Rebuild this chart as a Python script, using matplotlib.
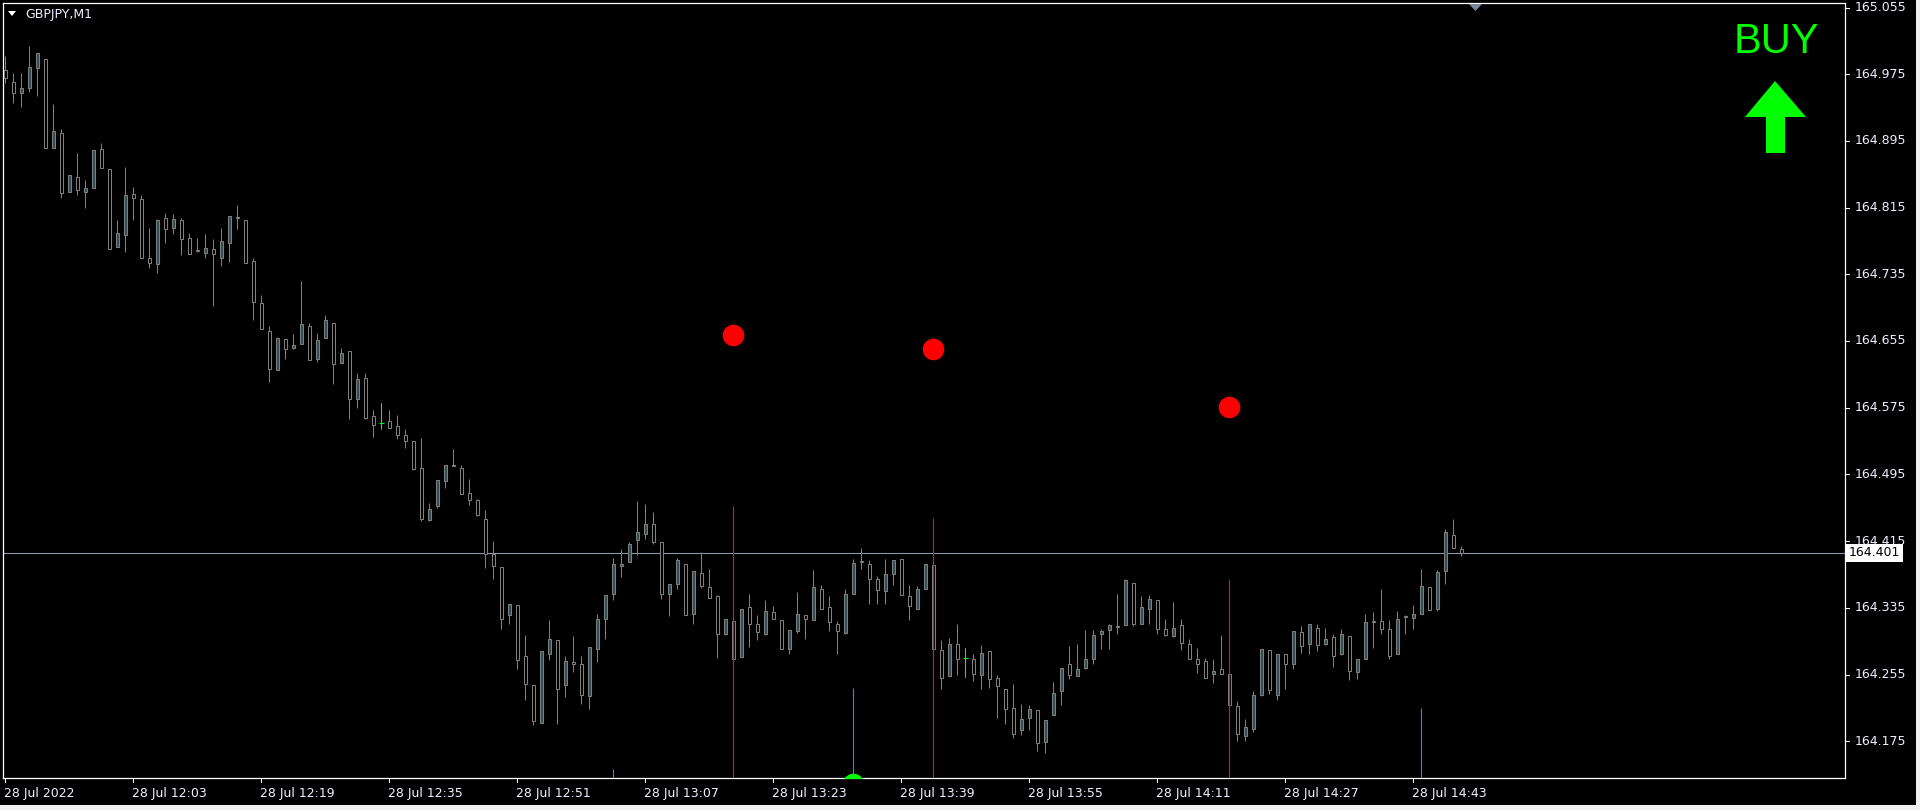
import matplotlib
matplotlib.use("Agg")
import matplotlib.pyplot as plt
from matplotlib.patches import Rectangle, Polygon
from matplotlib.transforms import blended_transform_factory
import numpy as np

# ---------------- data ----------------
symbol = "GBPJPY,M1"
signal_text = "BUY"
time_labels = ["28 Jul 2022", "28 Jul 12:03", "28 Jul 12:19", "28 Jul 12:35",
               "28 Jul 12:51", "28 Jul 13:07", "28 Jul 13:23", "28 Jul 13:39",
               "28 Jul 13:55", "28 Jul 14:11", "28 Jul 14:27", "28 Jul 14:43"]
time_label_bars = [0, 16, 32, 48, 64, 80, 96, 112, 128, 144, 160, 176]
price_ticks = [165.055, 164.975, 164.895, 164.815, 164.735, 164.655,
               164.575, 164.495, 164.415, 164.335, 164.255, 164.175]
current_price = 164.401

opens = [164.980, 164.966, 164.952, 164.959, 164.983, 164.993, 164.887, 164.905, 164.834, 164.852,
         164.834, 164.839, 164.885, 164.861, 164.768, 164.782, 164.831, 164.825, 164.755, 164.747,
         164.802, 164.790, 164.800, 164.778, 164.764, 164.761, 164.765, 164.755, 164.773, 164.804,
         164.800, 164.751, 164.701, 164.667, 164.620, 164.657, 164.647, 164.651, 164.673, 164.634,
         164.658, 164.677, 164.629, 164.643, 164.586, 164.611, 164.565, 164.557, 164.559, 164.553,
         164.542, 164.535, 164.503, 164.440, 164.457, 164.487, 164.506, 164.503, 164.473, 164.464,
         164.442, 164.400, 164.384, 164.326, 164.338, 164.277, 164.243, 164.197, 164.280, 164.296,
         164.243, 164.270, 164.268, 164.229, 164.286, 164.322, 164.351, 164.385, 164.390, 164.416,
         164.423, 164.435, 164.414, 164.352, 164.363, 164.388, 164.327, 164.377, 164.360, 164.349,
         164.303, 164.319, 164.276, 164.336, 164.315, 164.304, 164.330, 164.320, 164.286, 164.307,
         164.326, 164.320, 164.357, 164.336, 164.316, 164.305, 164.352, 164.391, 164.388, 164.369,
         164.355, 164.375, 164.393, 164.349, 164.334, 164.357, 164.386, 164.284, 164.253, 164.292,
         164.275, 164.274, 164.255, 164.283, 164.251, 164.238, 164.215, 164.189, 164.203, 164.212,
         164.174, 164.207, 164.235, 164.268, 164.253, 164.263, 164.274, 164.303, 164.308, 164.313,
         164.314, 164.365, 164.316, 164.334, 164.344, 164.310, 164.301, 164.314, 164.292, 164.274,
         164.271, 164.256, 164.261, 164.256, 164.217, 164.181, 164.190, 164.230, 164.284, 164.230,
         164.280, 164.268, 164.306, 164.291, 164.311, 164.291, 164.300, 164.279, 164.301, 164.258,
         164.274, 164.319, 164.319, 164.310, 164.279, 164.325, 164.323, 164.327, 164.360, 164.333,
         164.379, 164.422, 164.405]
highs = [164.997, 164.976, 164.977, 165.009, 165.000, 164.993, 164.939, 164.909, 164.854, 164.880,
         164.848, 164.884, 164.892, 164.861, 164.800, 164.864, 164.840, 164.830, 164.790, 164.801,
         164.809, 164.807, 164.803, 164.785, 164.779, 164.783, 164.777, 164.791, 164.805, 164.818,
         164.800, 164.755, 164.710, 164.673, 164.660, 164.657, 164.663, 164.727, 164.676, 164.664,
         164.686, 164.677, 164.647, 164.643, 164.617, 164.617, 164.572, 164.581, 164.572, 164.566,
         164.549, 164.535, 164.539, 164.461, 164.488, 164.506, 164.525, 164.506, 164.490, 164.465,
         164.452, 164.415, 164.384, 164.340, 164.338, 164.302, 164.243, 164.283, 164.320, 164.296,
         164.277, 164.301, 164.277, 164.288, 164.327, 164.350, 164.395, 164.405, 164.414, 164.463,
         164.460, 164.450, 164.414, 164.363, 164.395, 164.388, 164.379, 164.402, 164.382, 164.350,
         164.321, 164.319, 164.333, 164.351, 164.326, 164.344, 164.337, 164.320, 164.308, 164.354,
         164.326, 164.380, 164.362, 164.349, 164.319, 164.357, 164.393, 164.407, 164.392, 164.373,
         164.393, 164.392, 164.393, 164.362, 164.361, 164.387, 164.386, 164.296, 164.299, 164.316,
         164.287, 164.279, 164.290, 164.283, 164.254, 164.238, 164.244, 164.220, 164.219, 164.212,
         164.200, 164.246, 164.263, 164.289, 164.291, 164.308, 164.308, 164.310, 164.315, 164.352,
         164.369, 164.365, 164.349, 164.350, 164.344, 164.322, 164.342, 164.322, 164.298, 164.287,
         164.275, 164.273, 164.302, 164.256, 164.223, 164.202, 164.235, 164.286, 164.284, 164.279,
         164.280, 164.307, 164.313, 164.315, 164.315, 164.311, 164.303, 164.309, 164.301, 164.274,
         164.327, 164.330, 164.357, 164.320, 164.331, 164.326, 164.338, 164.381, 164.360, 164.380,
         164.429, 164.441, 164.409]
lows = [164.965, 164.941, 164.936, 164.954, 164.949, 164.886, 164.887, 164.826, 164.834, 164.830,
        164.815, 164.839, 164.863, 164.765, 164.768, 164.762, 164.800, 164.755, 164.743, 164.737,
        164.773, 164.783, 164.758, 164.759, 164.762, 164.754, 164.697, 164.745, 164.750, 164.789,
        164.749, 164.680, 164.669, 164.606, 164.620, 164.634, 164.645, 164.651, 164.632, 164.630,
        164.658, 164.604, 164.629, 164.562, 164.575, 164.561, 164.540, 164.550, 164.551, 164.537,
        164.527, 164.500, 164.439, 164.439, 164.455, 164.479, 164.505, 164.471, 164.458, 164.445,
        164.383, 164.369, 164.309, 164.315, 164.261, 164.225, 164.195, 164.197, 164.272, 164.196,
        164.228, 164.258, 164.220, 164.214, 164.270, 164.298, 164.344, 164.372, 164.390, 164.398,
        164.417, 164.412, 164.346, 164.325, 164.358, 164.326, 164.315, 164.359, 164.347, 164.275,
        164.302, 164.273, 164.276, 164.288, 164.296, 164.302, 164.321, 164.286, 164.280, 164.305,
        164.297, 164.320, 164.334, 164.307, 164.279, 164.304, 164.351, 164.381, 164.340, 164.340,
        164.340, 164.362, 164.350, 164.320, 164.333, 164.357, 164.285, 164.238, 164.253, 164.255,
        164.252, 164.247, 164.238, 164.239, 164.203, 164.196, 164.179, 164.183, 164.189, 164.163,
        164.161, 164.207, 164.219, 164.250, 164.253, 164.261, 164.267, 164.286, 164.286, 164.304,
        164.314, 164.313, 164.316, 164.316, 164.303, 164.301, 164.300, 164.284, 164.273, 164.257,
        164.251, 164.245, 164.256, 164.219, 164.175, 164.175, 164.186, 164.229, 164.232, 164.224,
        164.238, 164.261, 164.281, 164.280, 164.283, 164.290, 164.264, 164.278, 164.249, 164.250,
        164.274, 164.287, 164.304, 164.273, 164.279, 164.303, 164.309, 164.327, 164.332, 164.331,
        164.363, 164.407, 164.397]
closes = [164.970, 164.952, 164.958, 164.984, 165.000, 164.886, 164.907, 164.833, 164.854, 164.836,
          164.839, 164.884, 164.863, 164.765, 164.785, 164.830, 164.827, 164.755, 164.748, 164.800,
          164.789, 164.801, 164.777, 164.759, 164.763, 164.767, 164.759, 164.775, 164.805, 164.803,
          164.749, 164.702, 164.669, 164.621, 164.658, 164.646, 164.650, 164.675, 164.632, 164.656,
          164.680, 164.628, 164.641, 164.585, 164.610, 164.563, 164.554, 164.557, 164.551, 164.542,
          164.535, 164.501, 164.441, 164.454, 164.488, 164.506, 164.505, 164.472, 164.464, 164.446,
          164.399, 164.385, 164.322, 164.339, 164.272, 164.244, 164.199, 164.283, 164.297, 164.238,
          164.271, 164.267, 164.230, 164.288, 164.321, 164.350, 164.387, 164.388, 164.412, 164.426,
          164.436, 164.414, 164.351, 164.363, 164.392, 164.326, 164.379, 164.361, 164.347, 164.303,
          164.321, 164.273, 164.333, 164.315, 164.306, 164.331, 164.321, 164.286, 164.308, 164.327,
          164.322, 164.360, 164.334, 164.318, 164.307, 164.351, 164.389, 164.390, 164.369, 164.356,
          164.375, 164.392, 164.350, 164.337, 164.357, 164.387, 164.285, 164.251, 164.291, 164.274,
          164.275, 164.256, 164.281, 164.250, 164.241, 164.214, 164.184, 164.202, 164.214, 164.173,
          164.200, 164.233, 164.263, 164.254, 164.262, 164.273, 164.302, 164.307, 164.314, 164.312,
          164.368, 164.315, 164.336, 164.345, 164.309, 164.302, 164.311, 164.293, 164.274, 164.268,
          164.251, 164.259, 164.256, 164.219, 164.184, 164.192, 164.231, 164.285, 164.236, 164.279,
          164.268, 164.307, 164.289, 164.315, 164.290, 164.298, 164.277, 164.303, 164.259, 164.274,
          164.318, 164.318, 164.309, 164.277, 164.321, 164.324, 164.327, 164.361, 164.332, 164.378,
          164.426, 164.407, 164.401]

red_dot_bars = [91, 116, 153]
red_dot_values = [164.662, 164.645, 164.576]
red_line_bars = [91, 116, 153]
red_line_values = [164.457, 164.443, 164.370]
blue_line_bars = [76, 106, 177]
blue_line_values = [164.142, 164.239, 164.215]
green_dot_bars = [106]
green_dot_values = [164.124]

# ---------------- figure ----------------
W, H = 1920, 810
fig = plt.figure(figsize=(W / 100, H / 100), dpi=100, facecolor="black")

def fx(x):
    return x / W

def fy(y):
    return 1 - y / H

# window frame strips
fig.patches.append(Rectangle((0, 0), 1, fy(805), transform=fig.transFigure,
                             facecolor="#f0f0f0", edgecolor="none", zorder=0))
fig.patches.append(Rectangle((fx(1916), 0), 1 - fx(1916), 1, transform=fig.transFigure,
                             facecolor="#f0f0f0", edgecolor="none", zorder=0))

L_px, R_px, T_px, B_px = 3, 1845, 3, 778
ax = fig.add_axes([fx(L_px), fy(B_px), fx(R_px - L_px), (B_px - T_px) / H])
ax.set_facecolor("black")
for s in ax.spines.values():
    s.set_color("white")
    s.set_linewidth(0.9)
ax.set_xticks([])
ax.set_yticks([])

# scales: 8 px per bar, 833.75 px per price unit
px_per_bar = 8.0
x0_bar = 5.3
ax.set_xlim((L_px - x0_bar) / px_per_bar, (R_px - x0_bar) / px_per_bar)
ppu = 833.75
top_price = 165.055 + (7.5 - T_px) / ppu
bot_price = 165.055 - (B_px - 7.5) / ppu
ax.set_ylim(bot_price, top_price)

o = np.array(opens); h = np.array(highs); l = np.array(lows); c = np.array(closes)
idx = np.arange(len(o))
edge = "#7f7f7f"
bull_face = "#2f4f4f"

# wicks
ax.vlines(idx, l, h, color=edge, linewidth=0.75, zorder=2)
# bodies
up = c > o
down = c < o
doji = c == o
bw = 0.42
ax.bar(idx[up], (c - o)[up], bottom=o[up], width=bw, color=bull_face,
       edgecolor=edge, linewidth=0.75, zorder=3)
ax.bar(idx[down], (o - c)[down], bottom=c[down], width=bw, color="black",
       edgecolor=edge, linewidth=0.75, zorder=3)
ax.vlines(idx[doji], l[doji], h[doji], color="#00ff00", linewidth=0.75, zorder=3)
ax.hlines(o[doji], idx[doji] - 0.3, idx[doji] + 0.3, color="#00ff00", linewidth=0.75, zorder=3)

# current price line
ax.axhline(current_price, color="#8a9aaa", linewidth=0.75, zorder=1)

# indicator lines
ax.vlines(red_line_bars, bot_price, red_line_values, color="#dc143c", linewidth=0.8, zorder=4)
ax.vlines(blue_line_bars, bot_price, blue_line_values, color="#1e90ff", linewidth=0.8, zorder=4)
ax.plot(red_dot_bars, red_dot_values, "o", color="#ff0000", markersize=15.5,
        markeredgewidth=0, zorder=5)
ax.plot(green_dot_bars, green_dot_values, "o", color="#00ff00", markersize=15.5,
        markeredgewidth=0, zorder=5)

# right price scale
fs = 9
tr_y = blended_transform_factory(fig.transFigure, ax.transData)
tr_tick = blended_transform_factory(ax.transAxes, ax.transData)
for p in price_ticks:
    ax.plot([1, 1 + 4 / (R_px - L_px)], [p, p], color="white", linewidth=0.75,
            transform=tr_tick, clip_on=False)
    fig.text(fx(1855), p, f"{p:.3f}", transform=tr_y, color="#eef2ff",
             fontsize=fs, va="center", ha="left", family="DejaVu Sans")

# current price box
box_h = 18 / ppu
fig.patches.append(Rectangle((fx(1846), current_price - box_h / 2), fx(1903) - fx(1846), box_h,
                             transform=tr_y, facecolor="white", edgecolor="none", zorder=10))
fig.text(fx(1849), current_price, f"{current_price:.3f}", transform=tr_y, color="black",
         fontsize=fs, va="center", ha="left", family="DejaVu Sans", zorder=11)

# bottom time scale
tr_x = blended_transform_factory(ax.transData, ax.transAxes)
for b, lab in zip(time_label_bars, time_labels):
    ax.plot([b, b], [0, -4 / (B_px - T_px)], color="white", linewidth=0.75,
            transform=tr_x, clip_on=False)
    ax.text(b - 0.1, -15 / (B_px - T_px), lab, transform=tr_x, color="#eef2ff",
            fontsize=fs, va="center", ha="left", family="DejaVu Sans")

# top-left symbol label
fig.patches.append(Polygon([[fx(8), fy(11)], [fx(16), fy(11)], [fx(12), fy(16)]],
                           closed=True, transform=fig.transFigure, facecolor="white",
                           edgecolor="none", zorder=5))
fig.text(fx(25), fy(14.5), symbol, color="#eef2ff", fontsize=fs, va="center", ha="left",
         family="DejaVu Sans")

# chart shift marker
fig.patches.append(Polygon([[fx(1469), fy(4)], [fx(1482), fy(4)], [fx(1475.5), fy(11)]],
                           closed=True, transform=fig.transFigure, facecolor="#778899",
                           edgecolor="none", zorder=5))

# BUY signal text and arrow
fig.text(fx(1776), fy(42), signal_text, color="#00ff00", fontsize=30, va="center",
         ha="center", family="Liberation Sans")
arrow = [[1775, 81], [1806, 117], [1785, 117], [1785, 153], [1766, 153], [1766, 117], [1745, 117]]
fig.patches.append(Polygon([[fx(x), fy(y)] for x, y in arrow], closed=True,
                           transform=fig.transFigure, facecolor="#00ff00",
                           edgecolor="none", zorder=5))

fig.savefig("out.png", dpi=100, facecolor="black")
